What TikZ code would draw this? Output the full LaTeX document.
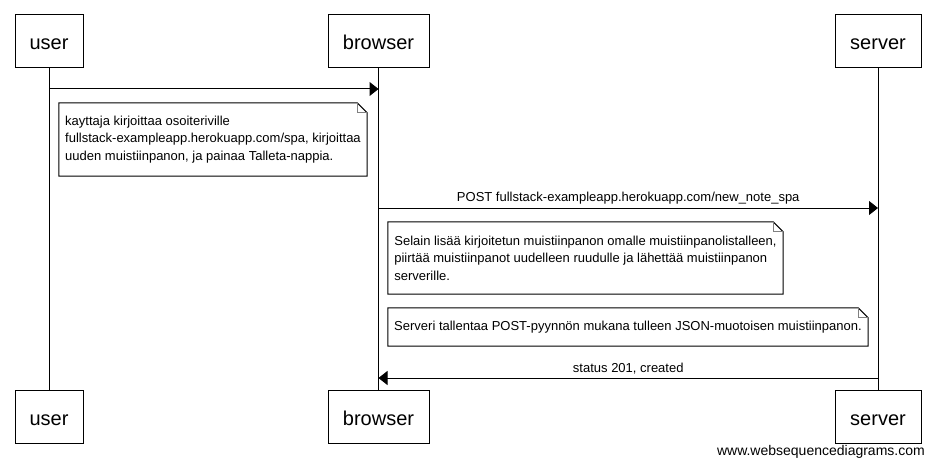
\documentclass[tikz,border=0pt]{standalone}
\usepackage{fontspec}
\setmainfont{Liberation Sans}
\usetikzlibrary{arrows.meta,calc}
\tikzset{
  actor/.style={draw, line width=1pt, minimum height=53pt, inner sep=0pt, text height=19pt, text depth=2pt, font=\fontsize{20}{24}\selectfont},
  notebox/.style={draw=none, inner sep=0pt, align=left, font=\fontsize{13}{17.5}\selectfont},
  notefold/.style={line width=1pt},
  foldline/.style={line width=0.8pt, gray},
  life/.style={line width=1pt},
  msg/.style={line width=1pt, -{Triangle[length=9pt,width=14pt]}},
  msglabel/.style={font=\fontsize{13}{15}\selectfont, inner sep=0pt, anchor=south}
}
\begin{document}
\begin{tikzpicture}[x=1pt,y=-1pt]
\useasboundingbox (0,0) rectangle (936,468);
% actors
\node[actor, minimum width=68pt] (userT) at (49,41.5) {user};
\node[actor, minimum width=101pt] (browserT) at (378.5,41.5) {browser};
\node[actor, minimum width=86pt] (serverT) at (878,41.5) {server};
\node[actor, minimum width=68pt] (userB) at (49,416.5) {user};
\node[actor, minimum width=101pt] (browserB) at (378.5,416.5) {browser};
\node[actor, minimum width=86pt] (serverB) at (878,416.5) {server};
% lifelines
\draw[life] (userT.south) -- (userB.north);
\draw[life] (browserT.south) -- (browserB.north);
\draw[life] (serverT.south) -- (serverB.north);
% message coordinates
\coordinate (m1a) at (49,89);
\coordinate (m1b) at (378.5,89);
\coordinate (m2a) at (378.5,208);
\coordinate (m2b) at (878,208);
\coordinate (m3a) at (878,378);
\coordinate (m3b) at (378.5,378);
\draw[msg] (m1a) -- (m1b);
\draw[msg] (m2a) -- node[msglabel, above=3pt] (l2) {POST fullstack-exampleapp.herokuapp.com/new\_note\_spa} (m2b);
\draw[msg] (m3a) -- node[msglabel, above=3pt] (l3) {status 201, created} (m3b);
% notes
\node[notebox, minimum width=308pt, minimum height=73pt] (n1) at (213,139.5)
  {kayttaja kirjoittaa osoiteriville\\fullstack-exampleapp.herokuapp.com/spa, kirjoittaa\\uuden muistiinpanon, ja painaa Talleta-nappia.};
\node[notebox, minimum width=395pt, minimum height=72pt] (n2) at (585.5,258)
  {Selain lisää kirjoitetun muistiinpanon omalle muistiinpanolistalleen,\\piirtää muistiinpanot uudelleen ruudulle ja lähettää muistiinpanon\\serverille.};
\node[notebox, minimum width=480pt, minimum height=38pt] (n3) at (628,327)
  {Serveri tallentaa POST-pyynnön mukana tulleen JSON-muotoisen muistiinpanon.};
\foreach \n in {n1,n2,n3}{
  \draw[notefold] (\n.south west) -- (\n.north west) -- ($(\n.north east)+(-10,0)$) -- ($(\n.north east)+(0,10)$) -- (\n.south east) -- cycle;
  \draw[foldline] ($(\n.north east)+(-10,0)$) -- ($(\n.north east)+(-10,10)$) -- ($(\n.north east)+(0,10)$);
}
% watermark
\node[font=\fontsize{14}{16}\selectfont, anchor=east, inner sep=0pt] (wm) at (925,452) {www.websequencediagrams.com};
\end{tikzpicture}
\end{document}
